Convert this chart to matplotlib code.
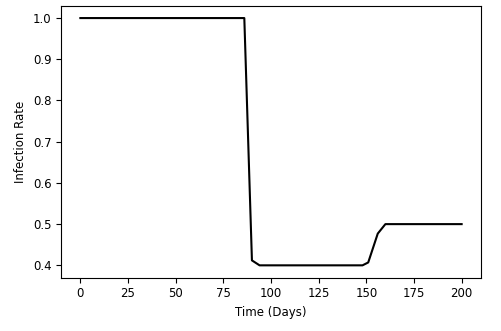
import matplotlib
matplotlib.use("Agg")
import matplotlib.pyplot as plt

days = [0, 86, 90, 94, 148, 151, 156, 160, 200]
rate = [1.0, 1.0, 0.412, 0.40, 0.40, 0.407, 0.477, 0.50, 0.50]

plt.rcParams['font.size'] = 8.5
fig = plt.figure(figsize=(5.01, 3.31), dpi=100)
ax = fig.add_axes([61.3/501, 1 - 277.7/331, (480.7-61.3)/501, (277.7-5.7)/331])
ax.plot(days, rate, color='black', linewidth=1.5)
ax.set_xlabel('Time (Days)')
ax.set_ylabel('Infection Rate')
ax.set_xticks([0, 25, 50, 75, 100, 125, 150, 175, 200])
fig.savefig('out.png', dpi=100)
